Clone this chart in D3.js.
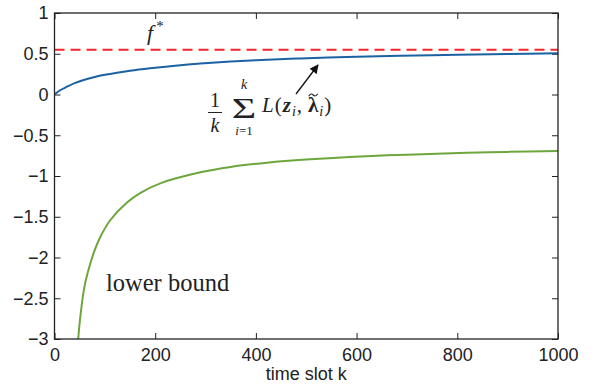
<!DOCTYPE html>
<html>
<head>
<meta charset="utf-8">
<script src="https://cdn.jsdelivr.net/npm/d3@7"></script>
<style>
  body { margin: 0; background: #fff; }
  svg text { fill: #222; }
</style>
</head>
<body>
<div id="chart"></div>
<script>
// running average of the Lagrangian (blue)
var kBlue = [0, 12, 25, 40, 58, 80, 100, 124, 150, 190, 240, 290, 350, 400, 488, 600, 687, 800, 900, 1000];
var vBlue = [0, 0.055, 0.096, 0.14, 0.178, 0.215, 0.242, 0.268, 0.292, 0.322, 0.354, 0.38, 0.404, 0.42, 0.443, 0.463, 0.476, 0.488, 0.497, 0.505];

// lower bound (green)
var kGreen = [46, 47, 50, 58, 65, 78, 90, 111, 144, 170, 210, 290, 350, 422, 500, 620, 700, 819, 900, 1000];
var vGreen = [-3.05, -3.0, -2.80, -2.41, -2.21, -1.94, -1.76, -1.54, -1.325, -1.21, -1.09, -0.955, -0.889, -0.837, -0.798, -0.757, -0.738, -0.716, -0.704, -0.693];

// optimal value f*
var fStar = 0.55;

var xTicks = [0, 200, 400, 600, 800, 1000];
var yTicks = [-3, -2.5, -2, -1.5, -1, -0.5, 0, 0.5, 1];

var margin = {top: 13, right: 41, bottom: 46, left: 54.5};
var W = 599, H = 385;
var width = W - margin.left - margin.right,
    height = H - margin.top - margin.bottom;

var x = d3.scaleLinear().domain([0, 1000]).range([0, width]);
var y = d3.scaleLinear().domain([-3, 1]).range([height, 0]);

var svg = d3.select('#chart').append('svg')
    .attr('width', W)
    .attr('height', H);

var defs = svg.append('defs');

var g = svg.append('g')
    .attr('transform', 'translate(' + margin.left + ',' + margin.top + ')');

defs.append('clipPath').attr('id', 'clip')
    .append('rect').attr('width', width).attr('height', height);

var fmt = function(d) { return d3.format('')(d).replace('-', '\u2212'); };

function styleAxis(sel) {
  sel.select('.domain').remove();
  sel.selectAll('line').attr('stroke', '#222').attr('stroke-width', 1);
  sel.selectAll('text')
    .style('font-family', '"Liberation Sans", Arial, sans-serif')
    .style('font-size', '18px')
    .attr('fill', '#222');
}

// axes with inward ticks (box style)
g.append('g')
    .attr('transform', 'translate(0,' + height + ')')
    .call(d3.axisBottom(x).tickValues(xTicks).tickSize(-6).tickPadding(9).tickFormat(d3.format('')))
    .call(styleAxis);

g.append('g')
    .call(d3.axisTop(x).tickValues(xTicks).tickSize(-6).tickFormat(''))
    .call(styleAxis);

g.append('g')
    .call(d3.axisLeft(y).tickValues(yTicks).tickSize(-6).tickPadding(6).tickFormat(fmt))
    .call(styleAxis);

g.append('g')
    .attr('transform', 'translate(' + width + ',0)')
    .call(d3.axisRight(y).tickValues(yTicks).tickSize(-6).tickFormat(''))
    .call(styleAxis);

// plot data
var line = d3.line()
    .x(function(d) { return x(d[0]); })
    .y(function(d) { return y(d[1]); })
    .curve(d3.curveCatmullRom.alpha(0.5));

var plot = g.append('g').attr('clip-path', 'url(#clip)');

plot.append('line')
    .attr('x1', x(0)).attr('x2', x(1000))
    .attr('y1', y(fStar)).attr('y2', y(fStar))
    .attr('stroke', '#f5262b')
    .attr('stroke-width', 2)
    .attr('stroke-dasharray', '10,6');

plot.append('path')
    .datum(d3.zip(kGreen, vGreen))
    .attr('fill', 'none')
    .attr('stroke', '#6ea63e')
    .attr('stroke-width', 2)
    .attr('d', line);

plot.append('path')
    .datum(d3.zip(kBlue, vBlue))
    .attr('fill', 'none')
    .attr('stroke', '#1c62a2')
    .attr('stroke-width', 2)
    .attr('d', line);

// box
g.append('rect')
    .attr('width', width).attr('height', height)
    .attr('fill', 'none')
    .attr('stroke', '#222')
    .attr('stroke-width', 1.3);

// x label
svg.append('text')
    .attr('x', margin.left + width / 2)
    .attr('y', 380)
    .attr('text-anchor', 'middle')
    .style('font-family', '"Liberation Sans", Arial, sans-serif')
    .style('font-size', '18px')
    .text('time slot k');

// annotations
var serif = '"Liberation Serif", "DejaVu Serif", serif';

var fs = svg.append('text')
    .attr('x', 147).attr('y', 40)
    .style('font-family', serif)
    .style('font-size', '22px')
    .style('font-style', 'italic');
fs.append('tspan').text('f');
fs.append('tspan').attr('dx', 3).attr('dy', -9).style('font-size', '15px').style('font-style', 'normal').text('*');

svg.append('text')
    .attr('x', 106).attr('y', 291)
    .style('font-family', serif)
    .style('font-size', '24.5px')
    .text('lower bound');

// formula: (1/k) sum_{i=1}^k L(z_i, lambda~_i)
var fm = svg.append('g').style('font-family', serif);
fm.append('text').attr('x', 215).attr('y', 107).attr('text-anchor', 'middle')
    .style('font-size', '20px').text('1');
fm.append('line').attr('x1', 208).attr('x2', 222).attr('y1', 112.5).attr('y2', 112.5)
    .attr('stroke', '#222').attr('stroke-width', 1);
fm.append('text').attr('x', 215).attr('y', 132).attr('text-anchor', 'middle')
    .style('font-size', '20px').style('font-style', 'italic').text('k');
fm.append('text').attr('x', 244).attr('y', 89).attr('text-anchor', 'middle')
    .style('font-size', '14px').style('font-style', 'italic').text('k');
// big sigma, stretched sideways
fm.append('text')
    .attr('transform', 'translate(244,118) scale(1.45,1)')
    .attr('text-anchor', 'middle')
    .style('font-size', '29px').text('\u03A3');
var sub = fm.append('text').attr('x', 244).attr('y', 135).attr('text-anchor', 'middle')
    .style('font-size', '13px');
sub.append('tspan').style('font-style', 'italic').text('i');
sub.append('tspan').text('=1');

// L(z_i, lambda_i) laid out piece by piece
var pieces = [
  {t: 'L', s: 21, it: true, b: false, dy: 0},
  {t: '(', s: 21, it: false, b: false, dy: 0},
  {t: 'z', s: 21, it: true, b: true, dy: 0},
  {t: 'i', s: 14, it: true, b: false, dy: 4},
  {t: ',', s: 21, it: false, b: false, dy: 0, gap: 5},
  {t: '\u03BB', s: 21, it: false, b: true, dy: 0, tilde: true},
  {t: 'i', s: 14, it: true, b: false, dy: 4},
  {t: ')', s: 21, it: false, b: false, dy: 0}
];
var cx = 262;
pieces.forEach(function(p) {
  var t = fm.append('text')
      .attr('x', cx).attr('y', 112 + p.dy)
      .style('font-size', p.s + 'px')
      .style('font-style', p.it ? 'italic' : 'normal')
      .style('font-weight', p.b ? 'bold' : 'normal')
      .text(p.t);
  var w = t.node().getComputedTextLength();
  if (p.tilde) {
    // small tilde accent drawn as a wave
    var tx = cx + w / 2, ty = 95;
    fm.append('path')
      .attr('d', 'M' + (tx - 4.5) + ',' + (ty + 1.2) +
                 ' C' + (tx - 2.5) + ',' + (ty - 2) + ' ' + (tx - 1) + ',' + (ty - 1) + ' ' + tx + ',' + ty +
                 ' S' + (tx + 2.5) + ',' + (ty + 2) + ' ' + (tx + 4.5) + ',' + (ty - 1.2))
      .attr('fill', 'none')
      .attr('stroke', '#222')
      .attr('stroke-width', 1.2);
  }
  cx += w + 1 + (p.gap || 0);
});

// arrow
defs.append('marker')
    .attr('id', 'arrow')
    .attr('viewBox', '0 0 10 10')
    .attr('refX', 9).attr('refY', 5)
    .attr('markerWidth', 10).attr('markerHeight', 9)
    .attr('markerUnits', 'userSpaceOnUse')
    .attr('orient', 'auto')
    .append('path').attr('d', 'M0,0 L10,5 L0,10 Z').attr('fill', '#111');

svg.append('line')
    .attr('x1', 296).attr('y1', 94)
    .attr('x2', 318).attr('y2', 65)
    .attr('stroke', '#111').attr('stroke-width', 1.3)
    .attr('marker-end', 'url(#arrow)');
</script>
</body>
</html>
